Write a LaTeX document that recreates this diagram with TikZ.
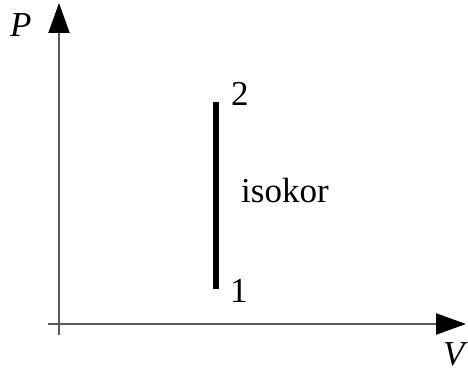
\documentclass[tikz,border=0pt]{standalone}
\usepackage{fontspec}
\setmainfont{Liberation Serif}
\usetikzlibrary{arrows.meta}
\begin{document}
\begin{tikzpicture}[x=1pt,y=1pt,
  axis/.style={draw=black!65, line width=2pt, -{Triangle[length=30pt,width=21pt,color=black]}},
  proc/.style={draw=black, line width=6.5pt},
  lbl/.style={inner sep=0pt, anchor=base west, font=\fontsize{35}{38}\selectfont}]
\useasboundingbox (0,0) rectangle (468,372);
\coordinate (yb) at (59,37);
\coordinate (yt) at (59,369);
\coordinate (xl) at (48,48);
\coordinate (xr) at (466,48);
\draw[axis] (yb) -- (yt);
\draw[axis] (xl) -- (xr);
\coordinate (s1) at (216,83);
\coordinate (s2) at (216,270);
\draw[proc] (s1) -- (s2);
\node[lbl] (P) at (10,335) {\itshape P};
\node[lbl] (V) at (443,7) {\itshape V};
\node[lbl] (n2) at (231,266) {2};
\node[lbl] (n1) at (230,70) {1};
\node[lbl] (iso) at (241,169) {isokor};
\end{tikzpicture}
\end{document}
